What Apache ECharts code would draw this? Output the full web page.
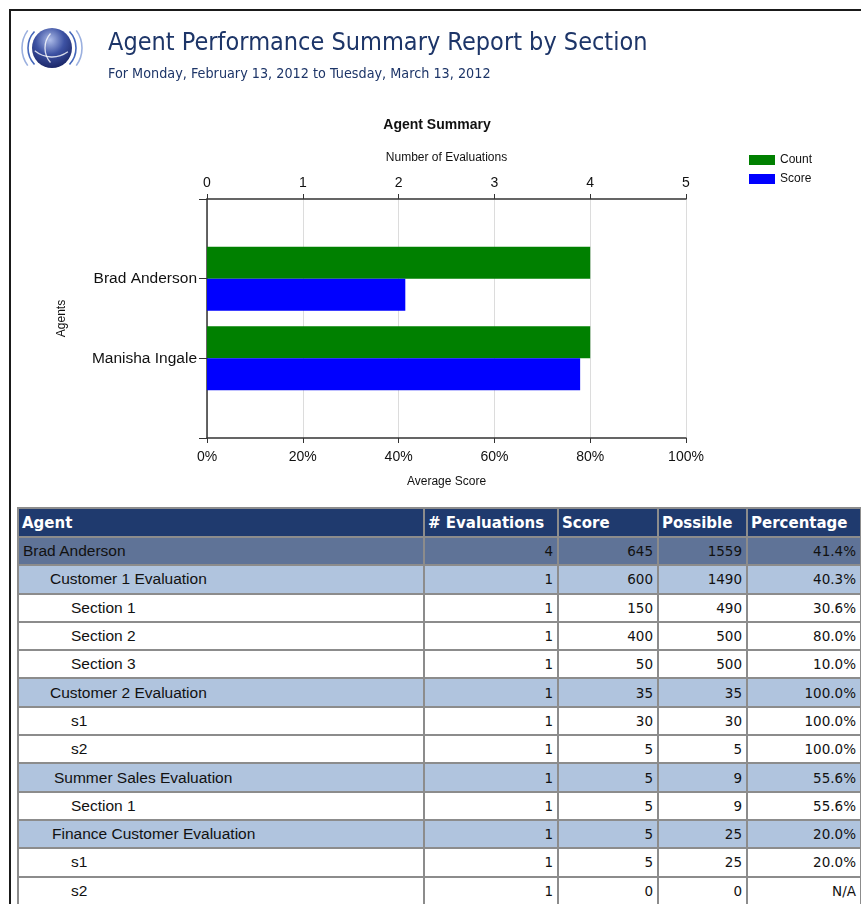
<!DOCTYPE html>
<html>
<head>
<meta charset="utf-8">
<script src="https://cdn.jsdelivr.net/npm/echarts@6/dist/echarts.min.js"></script>
<style>
    body { margin: 0; background: #fff; width: 861px; height: 904px; overflow: hidden; position: relative; }
    #frame { position: absolute; left: 9px; top: 9px; width: 900px; height: 950px;
        border-left: 2px solid #1a1a1a; border-top: 2px solid #1a1a1a; }
    #chart { position: absolute; left: 0; top: 0; width: 861px; height: 507px; }
    #summary { position: absolute; left: 17px; top: 507px; width: 843px;
        border-collapse: collapse; table-layout: fixed; }
    #summary th, #summary td { border: 2px solid #8c8c8c; padding: 0 4px; white-space: nowrap; overflow: hidden; }
    #summary th { background: #1f3a6e; color: #fff; font: bold 15px "DejaVu Sans", sans-serif;
        text-align: left; height: 27px; padding-left: 3px; }
    #summary td { height: 26.3px; font: 13.5px "DejaVu Sans", sans-serif; color: #111; text-align: right; }
    #summary td.name { font: 15.5px "Liberation Sans", Arial, sans-serif; text-align: left; }
    #summary tr.lv0 td { background: #5f7397; }
    #summary tr.lv1 td { background: #b0c4de; }
    #summary tr.lv2 td { background: #fff; }
</style>
</head>
<body>
<div id="frame"></div>
<div id="chart"></div>
<table id="summary"></table>
<script>
(function(window, echarts){
    'use strict';

    // chart data
    var agents = ['Brad Anderson', 'Manisha Ingale'];
    var countValues = [4, 4];
    var scoreValues = [41.4, 77.9];

    // table data
    var tableHeaders = ['Agent', '# Evaluations', 'Score', 'Possible', 'Percentage'];
    var rowNames = ['Brad Anderson', 'Customer 1 Evaluation', 'Section 1', 'Section 2', 'Section 3',
        'Customer 2 Evaluation', 's1', 's2', 'Summer Sales Evaluation', 'Section 1',
        'Finance Customer Evaluation', 's1', 's2'];
    var rowLevels = [0, 1, 2, 2, 2, 1, 2, 2, 1, 2, 1, 2, 2];
    var rowEvaluations = [4, 1, 1, 1, 1, 1, 1, 1, 1, 1, 1, 1, 1];
    var rowScores = [645, 600, 150, 400, 50, 35, 30, 5, 5, 5, 5, 5, 0];
    var rowPossible = [1559, 1490, 490, 500, 500, 35, 30, 5, 9, 9, 25, 25, 0];
    var rowPercent = ['41.4%', '40.3%', '30.6%', '80.0%', '10.0%', '100.0%', '100.0%', '100.0%',
        '55.6%', '55.6%', '20.0%', '20.0%', 'N/A'];

    var colWidths = [406, 134, 100, 89, 114];
    var indents = [0, 27, 48];

    var table = document.getElementById('summary');
    var html = '<colgroup>';
    colWidths.forEach(function(w) { html += '<col style="width:' + w + 'px">'; });
    html += '</colgroup><tr>';
    tableHeaders.forEach(function(h) { html += '<th>' + h + '</th>'; });
    html += '</tr>';
    rowNames.forEach(function(name, i) {
        // the two later evaluations sit a few px further right in the original report
        var pad = 4 + indents[rowLevels[i]] + (name === 'Summer Sales Evaluation' ? 4 : name === 'Finance Customer Evaluation' ? 2 : 0);
        html += '<tr class="lv' + rowLevels[i] + '">' +
            '<td class="name" style="padding-left:' + pad + 'px">' + name + '</td>' +
            '<td>' + rowEvaluations[i] + '</td>' +
            '<td>' + rowScores[i] + '</td>' +
            '<td>' + rowPossible[i] + '</td>' +
            '<td>' + rowPercent[i] + '</td></tr>';
    });
    table.innerHTML = html;

    var axisFont = '"Liberation Sans", Arial, sans-serif';
    var chart = echarts.init(document.getElementById('chart'));

    var logo = [
        {
            type: 'circle', shape: { cx: 52, cy: 48, r: 20 },
            style: {
                fill: new echarts.graphic.RadialGradient(0.45, 0.3, 0.8, [
                    { offset: 0, color: '#aebde9' },
                    { offset: 0.45, color: '#3d52a3' },
                    { offset: 1, color: '#121b58' }
                ])
            }
        },
        { type: 'arc', shape: { cx: 52, cy: 30, r: 27, startAngle: Math.PI * 0.3, endAngle: Math.PI * 0.72 },
            style: { fill: null, stroke: 'rgba(255,255,255,0.8)', lineWidth: 1.3 } },
        { type: 'arc', shape: { cx: 67, cy: 48, r: 22, startAngle: Math.PI * 0.77, endAngle: Math.PI * 1.23 },
            style: { fill: null, stroke: 'rgba(255,255,255,0.8)', lineWidth: 1.3 } }
    ];
    [[24, 0.24, '#4467bb'], [30, 0.2, '#9bb0df']].forEach(function(a) {
        logo.push({ type: 'arc', shape: { cx: 52, cy: 48, r: a[0], startAngle: Math.PI * (1 - a[1]), endAngle: Math.PI * (1 + a[1]) },
            style: { fill: null, stroke: a[2], lineWidth: 1.6 } });
        logo.push({ type: 'arc', shape: { cx: 52, cy: 48, r: a[0], startAngle: -Math.PI * a[1], endAngle: Math.PI * a[1] },
            style: { fill: null, stroke: a[2], lineWidth: 1.6 } });
    });

    chart.setOption({
        animation: false,
        graphic: logo.concat([
            { type: 'text', x: 108, y: 43, scaleX: 0.9,
                style: { text: 'Agent Performance Summary Report by Section', fill: '#1d3568',
                    font: '25px "DejaVu Sans", sans-serif', textVerticalAlign: 'middle' } },
            { type: 'text', x: 108, y: 74.5, scaleX: 0.95,
                style: { text: 'For Monday, February 13, 2012 to Tuesday, March 13, 2012', fill: '#1d3568',
                    font: '13.5px "DejaVu Sans", sans-serif', textVerticalAlign: 'middle' } },
            { type: 'text', x: 437, y: 125,
                style: { text: 'Agent Summary', fill: '#111', font: 'bold 14px ' + axisFont,
                    textAlign: 'center', textVerticalAlign: 'middle' } }
        ]),
        legend: {
            orient: 'vertical', left: 744, top: 149,
            itemWidth: 26, itemHeight: 10, itemGap: 7,
            icon: 'rect',
            textStyle: { fontSize: 12, fontFamily: axisFont, color: '#111' },
            data: ['Count', 'Score']
        },
        grid: { left: 207, right: 175, top: 199, bottom: 69 },
        xAxis: [
            {
                type: 'value', position: 'top', min: 0, max: 5, interval: 1,
                name: 'Number of Evaluations', nameLocation: 'middle', nameGap: 35,
                nameTextStyle: { fontSize: 12, fontFamily: axisFont, color: '#111' },
                axisLine: { show: true, lineStyle: { color: '#333', width: 1.5 } },
                axisTick: { show: true, length: 5, lineStyle: { color: '#333' } },
                axisLabel: { fontSize: 14, fontFamily: axisFont, color: '#111', margin: 9 },
                splitLine: { show: true, lineStyle: { color: '#dcdcdc' } }
            },
            {
                type: 'value', position: 'bottom', min: 0, max: 100, interval: 20,
                name: 'Average Score', nameLocation: 'middle', nameGap: 38,
                nameTextStyle: { fontSize: 12, fontFamily: axisFont, color: '#111' },
                axisLine: { show: true, lineStyle: { color: '#333', width: 1.5 } },
                axisTick: { show: true, length: 5, lineStyle: { color: '#333' } },
                axisLabel: { fontSize: 14, fontFamily: axisFont, color: '#111', margin: 12, formatter: '{value}%' },
                splitLine: { show: false }
            }
        ],
        yAxis: {
            type: 'category', inverse: true, boundaryGap: false,
            data: [''].concat(agents, ['']),
            name: 'Agents', nameLocation: 'middle', nameGap: 139, nameRotate: 90,
            nameTextStyle: { fontSize: 12, fontFamily: axisFont, color: '#111' },
            axisLine: { show: true, lineStyle: { color: '#333', width: 1.5 } },
            axisTick: { show: true, length: 8, lineStyle: { color: '#333' } },
            axisLabel: { fontSize: 15.5, fontFamily: axisFont, color: '#111', margin: 10 },
            splitLine: { show: false }
        },
        series: [
            { name: 'Count', type: 'bar', xAxisIndex: 0, barWidth: 32, barGap: '0%',
                itemStyle: { color: '#008000' }, data: [null].concat(countValues, [null]) },
            { name: 'Score', type: 'bar', xAxisIndex: 1, barWidth: 32, barGap: '0%',
                itemStyle: { color: '#0000ff' }, data: [null].concat(scoreValues, [null]) }
        ]
    });
})(window, window.echarts);
</script>
</body>
</html>
